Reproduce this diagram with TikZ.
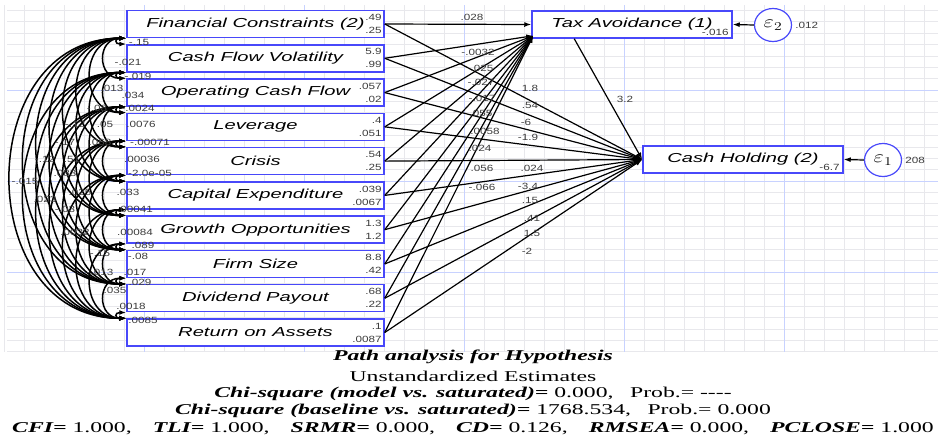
\documentclass[tikz,border=0pt]{standalone}
\usepackage{fontspec}
\usepackage{graphicx}
\usetikzlibrary{arrows.meta,calc,shapes.geometric}
\newfontfamily\lblfont[FakeStretch=1.55]{Liberation Sans}
\newfontfamily\numfont[FakeStretch=1.3]{Liberation Sans}
\newfontfamily\capfont[FakeStretch=1.58]{Liberation Serif}
\definecolor{boxblue}{RGB}{72,72,250}
\definecolor{gridminor}{RGB}{232,232,236}
\definecolor{gridmajor}{RGB}{200,210,255}
\definecolor{numgray}{RGB}{60,60,60}
\tikzset{
 varbox/.style={draw=boxblue, line width=1.5pt, fill=white, minimum width=257pt, minimum height=27pt, inner sep=0pt, font=\lblfont\itshape\fontsize{13}{15}\selectfont},
 endobox/.style={varbox, minimum width=200pt},
 num/.style={font=\numfont\fontsize{9}{10}\selectfont, text=numgray, inner sep=0pt},
 errc/.style={draw=boxblue, line width=1.2pt, fill=white, ellipse, minimum width=37pt, minimum height=33pt, inner sep=0pt, font=\fontsize{17}{18}\selectfont},
 pth/.style={line width=1.2pt, -{Latex[length=7pt,width=5pt]}},
 cov/.style={line width=1.5pt, {Latex[length=7pt,width=5pt]}-{Latex[length=7pt,width=5pt]}},
 capline/.style={font=\capfont\fontsize{15}{16}\selectfont, inner sep=0pt},
 gminor/.style={draw=gridminor, line width=0.8pt},
 gmajor/.style={draw=gridmajor, line width=1pt},
}
\begin{document}
\begin{tikzpicture}[x=1pt,y=-1pt]
\useasboundingbox (0,0) rectangle (946,437);
% grid
\foreach \k in {0,...,46} \draw[gminor] ({4+20*\k},5) -- ({4+20*\k},352);
\foreach \k in {0,...,30} \draw[gminor] (7,{10.4+11.375*\k}) -- (938,{10.4+11.375*\k});
\foreach \xx in {144,304,464,624,784} \draw[gmajor] (\xx,5) -- (\xx,352);
\foreach \yy in {90,181,272} \draw[gmajor] (7,\yy) -- (938,\yy);
% exogenous boxes
\foreach \lbl/\ma/\mb [count=\i from 0] in {
 Financial Constraints (2)/.49/.25,
 Cash Flow Volatility/5.9/.99,
 Operating Cash Flow/.057/.02,
 Leverage/.4/.051,
 Crisis/.54/.25,
 Capital Expenditure/.039/.0067,
 Growth Opportunities/1.3/1.2,
 Firm Size/8.8/.42,
 Dividend Payout/.68/.22,
 Return on Assets/.1/.0087} {
 \node[varbox] (v\i) at (255.5,{24+34.28*\i}) {\lbl};
 \node[num, anchor=east] (va\i) at ($(v\i.east)+(-3,-6.5)$) {\ma};
 \node[num, anchor=east] (vb\i) at ($(v\i.east)+(-3,6.5)$) {\mb};
}
% endogenous boxes
\node[endobox] (tax) at (632,24.5) {Tax Avoidance (1)};
\node[endobox] (cash) at (743,159.5) {Cash Holding (2)};
\node[num, anchor=east] (taxi) at ($(tax.south east)+(-4,-6)$) {-.016};
\node[num, anchor=east] (cashi) at ($(cash.south east)+(-4,-6)$) {-6.7};
% errors
\node[errc] (e2) at (773,25) {\scalebox{1.3}[1]{$\varepsilon_2$}};
\node[num, anchor=west] (e2v) at ($(e2.east)+(3,0)$) {.012};
\node[errc] (e1) at (883,160) {\scalebox{1.3}[1]{$\varepsilon_1$}};
\node[num, anchor=west] (e1v) at ($(e1.east)+(3,0)$) {208};
\draw[pth] (e2.west) -- (tax.east);
\draw[pth] (e1.west) -- (cash.east);
% covariances
\foreach \i in {0,...,8} {
 \pgfmathtruncatemacro\ii{\i+1}
 \foreach \j in {\ii,...,9} {
  \pgfmathsetmacro\cc{0.52*(34.28*(\j-\i)-27)+8}
  \draw[cov] (v\i.south west) .. controls +(-\cc,0) and +(-\cc,0) .. (v\j.north west);
 }
}
% structural paths
\coordinate (tin) at ($(tax.south west)+(2,-3)$);
\coordinate (tout) at ($(tax.south west)+(43,0)$);
\draw[pth] (v0.east) -- (tax.west);
\foreach \i in {1,...,9} \draw[pth] (v\i.east) -- (tin);
\foreach \i in {0,...,9} \draw[pth] (v\i.east) -- (cash.west);
\draw[pth] (tout) -- (cash.west);
% path labels to tax avoidance
\foreach \xx/\yy/\tt [count=\n] in {472/17/.028, 478/52/-.0032, 482/68/.025, 481/82/-.027, 482/98/-.017,
 481/113/.055, 485/131/.0058, 480/148/.024, 482/168/.056, 482/187/-.066}
 \node[num] (pt\n) at (\xx,\yy) {\tt};
% path labels to cash holding
\foreach \xx/\yy/\tt [count=\n] in {530/88/1.8, 530/105/.54, 526/122/-6, 528/137/-1.9, 532/168/.024,
 528/186/-3.4, 530/200/.15, 532/218/.41, 532/233/1.5, 527/251/-2}
 \node[num] (pc\n) at (\xx,\yy) {\tt};
\node[num] (p32) at (625,99) {3.2};
% covariance labels
\foreach \xx/\yy/\tt [count=\n] in {139/42/-.15, 128/62/-.021, 138/76/-.019, 112/88/.013, 133/95/.034,
 97/108/-.08, 138/108/-.0024, 75/124/-.12, 105/124/.05, 141/124/.0076,
 65/142/-.17, 100/142/.068, 150/142/-.00071, 45/159/-.12, 72/159/.51, 142/159/.00036,
 65/173/.083, 150/173/-2.0e-05, 25/181/-.015, 80/192/.025, 128/192/.033, 45/199/.023,
 65/209/-.03, 135/209/.00041, 75/232/.0032, 135/232/.00084, 143/245.5/.089, 100/253/-.15,
 138/256/-.08, 100/272/-.013, 135/272/.017, 140/282/.029, 115/290/.035, 131/306/.0018, 143/320/.0085}
 \node[num] (cv\n) at (\xx,\yy) {\tt};
% caption
\node[capline] (c1) at (473,357) {\bfseries\itshape Path analysis for Hypothesis};
\node[capline] (c2) at (473,376) {Unstandardized Estimates};
\node[capline] (c3) at (473,394) {\textbf{\textit{Chi-square (model vs. saturated)=}} 0.000,\hspace{1.1em}Prob.= {-}{-}{-}{-}};
\node[capline] (c4) at (473,411) {\textbf{\textit{Chi-square (baseline vs. saturated)=}} 1768.534,\hspace{1.1em}Prob.= 0.000};
\node[capline] (c5) at (473,429) {\textbf{\textit{CFI=}} 1.000,\hspace{1.4em}\textbf{\textit{TLI=}} 1.000,\hspace{1.4em}\textbf{\textit{SRMR=}} 0.000,\hspace{1.4em}\textbf{\textit{CD=}} 0.126,\hspace{1.4em}\textbf{\textit{RMSEA=}} 0.000,\hspace{1.4em}\textbf{\textit{PCLOSE=}} 1.000};
\end{tikzpicture}
\end{document}
